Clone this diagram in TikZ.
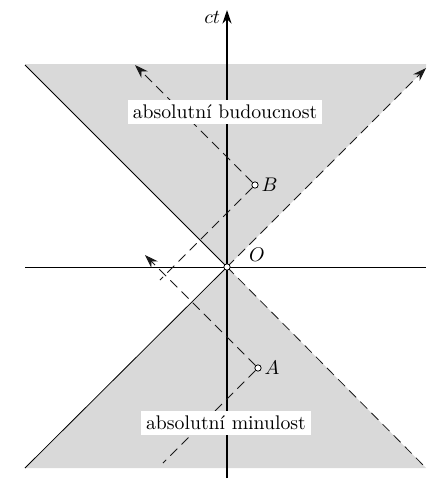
\documentclass[tikz,border=0pt]{standalone}
\usepackage{tikz}
\usetikzlibrary{arrows.meta,positioning}

\begin{document}
\begin{tikzpicture}[
  x=0.0178cm, y=-0.0178cm,
  region/.style={fill=gray!30, draw=none},
  labelbox/.style={fill=white, inner sep=2.5pt},
  event/.style={circle, draw, fill=white, inner sep=0pt, minimum size=3.2pt},
  arrow/.style={-{Stealth[length=2.4mm, width=1.6mm]}},
  worldline/.style={dash pattern=on 5pt off 3pt, black!90},
]
  \useasboundingbox (0,0) rectangle (426,483);

  % light cone corners
  \coordinate (O) at (227,267);
  \coordinate (futL) at (25,65);
  \coordinate (futR) at (426,68);
  \coordinate (pastL) at (25,468);
  \coordinate (pastR) at (426,468);

  % shaded cones
  \fill[region] (futL) -- (25,64) -- (426,64) -- (futR) -- (O) -- cycle;
  \fill[region] (O) -- (pastL) -- (pastR) -- cycle;

  % axes
  \coordinate (xL) at (25,267);
  \coordinate (xR) at (426,267);
  \coordinate (tB) at (227,478);
  \coordinate (tT) at (227,10);
  \draw[thin] (xL) -- (xR);
  \draw[arrow, line width=0.9pt] (tB) -- (tT);
  \node[left=0pt of tT, yshift=-4pt] (ct) {$ct$};

  % cone edges
  \draw (futL) -- (O) -- (pastL);
  \draw[arrow, worldline] (O) -- (futR);
  \draw[worldline] (O) -- (pastR);

  % events and their lines
  \node[event] (B) at (255,185) {};
  \node[event] (A) at (258,368) {};
  \node[right=-2pt of B] (Blab) {$B$};
  \node[right=-2pt of A] (Alab) {$A$};
  \coordinate (Bup) at (135,65);
  \coordinate (Bdown) at (160,280);
  \coordinate (Aup) at (145,255);
  \coordinate (Adown) at (163,463);
  \draw[arrow, worldline] (B) -- (Bup);
  \draw[worldline] (B) -- (Bdown);
  \draw[arrow, worldline] (A) -- (Aup);
  \draw[worldline] (A) -- (Adown);

  % origin
  \node[event] (Odot) at (O) {};
  \node (Olab) at (257,255) {$O$};

  % region labels
  \node[labelbox] (future) at (225,112) {absolutní budoucnost};
  \node[labelbox] (past) at (226,423) {absolutní minulost};
\end{tikzpicture}
\end{document}
